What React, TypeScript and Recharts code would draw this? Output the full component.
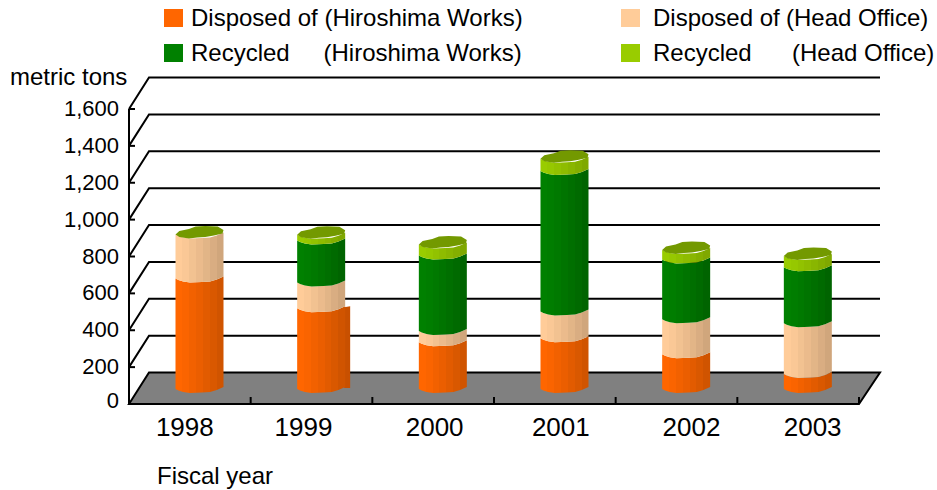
import React from "react";
import { BarChart, Bar, XAxis, YAxis } from "recharts";

const years = ["1998", "1999", "2000", "2001", "2002", "2003"];
const disposedHiroshima = [600, 438, 254, 275, 189, 81];
const disposedHead = [238, 140, 60, 146, 189, 276];
const recycledHiroshima = [0, 227, 410, 762, 324, 303];
const recycledHead = [0, 32, 60, 66, 52, 62];
const yTicks = [0, 200, 400, 600, 800, 1000, 1200, 1400, 1600];

const seriesColors = ["#FF6600", "#FFCC99", "#008000", "#99CC00"];
const darkColors = ["#D05400", "#D0A67C", "#006400", "#7FA800"];
const capColor = "#739900";

const data = years.map((year, i) => ({
  year,
  a: disposedHiroshima[i],
  b: disposedHead[i],
  c: recycledHiroshima[i],
  d: recycledHead[i],
}));

const W = 937;
const H = 490;
const PLOT = { left: 129, right: 859, top: 109, bottom: 404 };
const DEPTH_X = 20;
const DEPTH_Y = -31.5;
const BAR_DX = 9.5;
const BAR_DY = -11;
const labelNudge = [-5, -8, 1.5, 6, 15, 14.5];
const FONT = "'Liberation Sans', Arial, sans-serif";

// front silhouette of a polygonal column: [fraction of width, rise above the lowest point]
const rim: [number, number][] = [
  [0, 4], [0.06, 2.5], [0.16, 1], [0.3, 0], [0.55, 0.5], [0.72, 1], [0.86, 3], [1, 6],
];

const mix = (a: string, b: string, t: number) => {
  const p = (s: string, i: number) => parseInt(s.slice(i, i + 2), 16);
  const ch = (i: number) => Math.round(p(a, i) + (p(b, i) - p(a, i)) * t).toString(16).padStart(2, "0");
  return "#" + ch(1) + ch(3) + ch(5);
};

const Gradients = () => (
  <defs>
    {seriesColors.map((c, i) => {
      const bands = 7;
      const stops: React.ReactElement[] = [];
      for (let b = 0; b < bands; b++) {
        const col = mix(c, darkColors[i], Math.pow(b / (bands - 1), 1.2));
        stops.push(<stop key={b + "a"} offset={b / bands} stopColor={col} />);
        stops.push(<stop key={b + "b"} offset={(b + 1) / bands} stopColor={col} />);
      }
      return (
        <linearGradient key={i} id={"col" + i} x1="0" x2="1" y1="0" y2="0">
          {stops}
        </linearGradient>
      );
    })}
  </defs>
);

const segment = (idx: number, withCap: boolean) => (props: any) => {
  const { x, y, width, height, index } = props;
  if (x == null || y == null) return <g />;
  const l = x + BAR_DX;
  const top = y + BAR_DY;
  const bot = y + (height || 0) + BAR_DY;
  const upper = rim.map(([f, r]) => `${l + f * width},${top - r}`);
  const lower = [...rim].reverse().map(([f, r]) => `${l + f * width},${bot - r}`);
  const capPts: [number, number][] = [
    [0, 4], [0.08, 7.5], [0.28, 9.5], [0.42, 12], [0.62, 12.5], [0.88, 12], [1, 8.5], [0.98, 5],
    [0.8, 3], [0.62, 1.5], [0.45, 1], [0.28, 0], [0.08, 1.5],
  ];
  const cap = capPts.map(([f, r]) => `${l + f * width},${top - r}`).join(" ");
  // the 1999 column's lowest section shows its receding side face
  const side =
    idx === 0 && index === 1
      ? `${l + width - 1},${top - 5} ${l + width + 5},${top - 6} ${l + width + 5},${bot - 5} ${l + width - 1},${bot - 5}`
      : null;
  return (
    <g>
      {side && <polygon points={side} fill="#C85000" />}
      {(height || 0) > 0 && (
        <polygon points={[...upper, ...lower].join(" ")} fill={`url(#col${idx})`} stroke="none" />
      )}
      {withCap && <polygon points={cap} fill={capColor} stroke="none" />}
    </g>
  );
};

const XTick = (props: any) => {
  const { x, index, payload } = props;
  const step = (PLOT.right - PLOT.left) / years.length;
  const edge = payload.coordinate + step / 2;
  return (
    <g>
      <line x1={edge} x2={edge} y1={PLOT.bottom} y2={PLOT.bottom - 7} stroke="#000" strokeWidth={2} />
      <text x={x + labelNudge[index]} y={PLOT.bottom + 32} textAnchor="middle" fontFamily={FONT} fontSize={26} fill="#000">
        {payload.value}
      </text>
    </g>
  );
};

// Each value tick also draws its share of the box: floor at 0, wall line elsewhere.
const YTick = (props: any) => {
  const { y, payload } = props;
  const x1 = PLOT.left;
  const x2 = PLOT.right;
  const path = `${x1},${y} ${x1 + DEPTH_X},${y + DEPTH_Y} ${x2 + DEPTH_X + 1},${y + DEPTH_Y}`;
  return (
    <g>
      {payload.value === 0 ? (
        <polygon points={`${path} ${x2},${y}`} fill="#808080" stroke="#000" strokeWidth={2} />
      ) : (
        <polyline points={path} fill="none" stroke="#000" strokeWidth={2} />
      )}
      <line x1={x1} x2={x1 + 6} y1={y} y2={y} stroke="#000" strokeWidth={2} />
      <text x={x1 - 10} y={y + (payload.value === 0 ? 4 : 7)} textAnchor="end" fontFamily={FONT} fontSize={22} fill="#000">
        {payload.value.toLocaleString("en-US")}
      </text>
    </g>
  );
};

const labelStyle: React.CSSProperties = {
  position: "absolute",
  fontFamily: FONT,
  fontSize: 24,
  lineHeight: "28px",
  color: "#000",
  whiteSpace: "pre",
};

const legendRows = [
  { sw: 164, top: 4, color: 0, parts: [["Disposed of (Hiroshima Works)", 191]] },
  { sw: 621, top: 4, color: 1, parts: [["Disposed of", 653], ["(Head Office)", 786]] },
  { sw: 164, top: 39, color: 2, parts: [["Recycled", 191], ["(Hiroshima Works)", 323.5]] },
  { sw: 621, top: 39, color: 3, parts: [["Recycled", 653], ["(Head Office)", 792]] },
];

const layer: React.CSSProperties = { position: "absolute", left: 0, top: 0 };

export default function App() {
  return (
    <div style={{ position: "absolute", left: 0, top: 0, width: W, height: H, background: "#fff" }}>
      <div style={layer}>
        <BarChart
          width={W}
          height={H}
          data={data}
          margin={{ left: 0, right: W - PLOT.right, top: PLOT.top, bottom: 0 }}
        >
          <YAxis
            domain={[0, 1600]}
            ticks={yTicks}
            width={PLOT.left}
            axisLine={{ stroke: "#000", strokeWidth: 2 }}
            tickLine={false}
            tick={<YTick />}
            interval={0}
          />
          <XAxis
            dataKey="year"
            axisLine={{ stroke: "#000", strokeWidth: 2 }}
            tickLine={false}
            tick={<XTick />}
            interval={0}
            height={H - PLOT.bottom}
          />
          <Bar dataKey="a" fill="none" isAnimationActive={false} />
        </BarChart>
      </div>
      <div style={layer}>
        <BarChart
          width={W}
          height={H}
          data={data}
          barSize={48}
          margin={{ left: PLOT.left, right: W - PLOT.right, top: PLOT.top, bottom: H - PLOT.bottom }}
        >
          <Gradients />
          <YAxis domain={[0, 1600]} ticks={yTicks} hide />
          <XAxis dataKey="year" hide />
          <Bar dataKey="a" stackId="s" isAnimationActive={false} shape={segment(0, false)} />
          <Bar dataKey="b" stackId="s" isAnimationActive={false} shape={segment(1, false)} />
          <Bar dataKey="c" stackId="s" isAnimationActive={false} shape={segment(2, false)} />
          <Bar dataKey="d" stackId="s" isAnimationActive={false} shape={segment(3, true)} />
        </BarChart>
      </div>
      {legendRows.map((r, i) => (
        <React.Fragment key={i}>
          <div
            style={{
              position: "absolute",
              left: r.sw,
              top: r.top + 5,
              width: 19,
              height: 18,
              background: seriesColors[r.color],
            }}
          />
          {r.parts.map(([t, x]) => (
            <span key={t as string} style={{ ...labelStyle, left: x as number, top: r.top }}>
              {t}
            </span>
          ))}
        </React.Fragment>
      ))}
      <span style={{ ...labelStyle, left: 10, top: 63 }}>metric tons</span>
      <span style={{ ...labelStyle, left: 157, top: 462 }}>Fiscal year</span>
    </div>
  );
}
